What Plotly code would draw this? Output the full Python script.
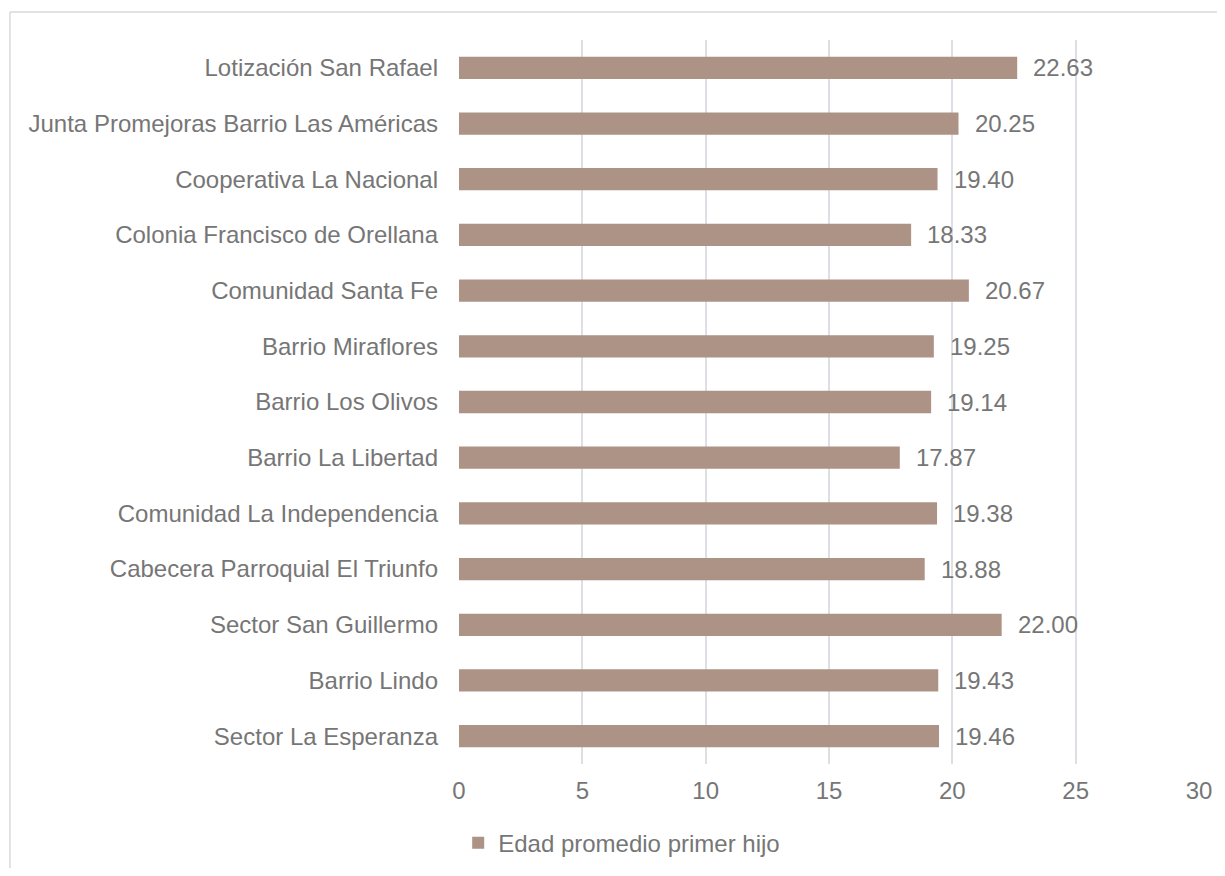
import plotly.graph_objects as go

categories = [
    "Lotización San Rafael",
    "Junta Promejoras Barrio Las Américas",
    "Cooperativa La Nacional",
    "Colonia Francisco de Orellana",
    "Comunidad Santa Fe",
    "Barrio Miraflores",
    "Barrio Los Olivos",
    "Barrio La Libertad",
    "Comunidad La Independencia",
    "Cabecera Parroquial El Triunfo",
    "Sector San Guillermo",
    "Barrio Lindo",
    "Sector La Esperanza",
]
values = [22.63, 20.25, 19.40, 18.33, 20.67, 19.25, 19.14, 17.87, 19.38, 18.88, 22.00, 19.43, 19.46]
series_name = "Edad promedio primer hijo"
x_ticks = [0, 5, 10, 15, 20, 25, 30]

bar_color = "#AD9385"
text_color = "#767676"
grid_color = "#DCE0E5"
font_family = "Liberation Sans, Arial, sans-serif"
fs = 24

fig = go.Figure()
fig.add_trace(go.Bar(
    y=categories,
    x=values,
    orientation="h",
    name=series_name,
    marker=dict(color=bar_color, line=dict(width=0)),
    width=0.4,
    showlegend=True,
))

for c, v in zip(categories, values):
    fig.add_annotation(
        x=v, y=c, text=f"{v:.2f}", showarrow=False,
        xanchor="left", yanchor="middle", xshift=14,
        font=dict(family=font_family, size=fs, color=text_color),
    )

# chart border (left and top visible)
fig.add_shape(type="line", xref="paper", yref="paper",
              x0=-0.6068, x1=-0.6068, y0=1.0387, y1=-0.16,
              line=dict(color="#D9D9D9", width=1.5))
fig.add_shape(type="line", xref="paper", yref="paper",
              x0=-0.6068, x1=1.05, y0=1.0387, y1=1.0387,
              line=dict(color="#D9D9D9", width=1.5))

fig.update_layout(
    width=1209, height=860,
    margin=dict(l=451, r=18, t=32, b=104, autoexpand=False),
    paper_bgcolor="white", plot_bgcolor="white",
    font=dict(family=font_family, size=fs, color=text_color),
    bargap=0.6,
    legend=dict(orientation="h", xref="container", yref="container",
                x=0.5076, xanchor="center", y=0.029, yanchor="middle",
                font=dict(family=font_family, size=fs, color=text_color),
                itemwidth=30),
    xaxis=dict(range=[0, 30], tickvals=x_ticks, showgrid=True, gridcolor=grid_color,
               gridwidth=1.5, zeroline=False, showline=False, ticks="", automargin=False,
               tickfont=dict(size=fs, color=text_color), ticklabelstandoff=10),
    yaxis=dict(categoryorder="array", categoryarray=categories[::-1], automargin=False,
               showgrid=False, zeroline=False, showline=False, ticks="",
               tickfont=dict(size=fs, color=text_color), ticklabelstandoff=20),
)

fig.write_html("out.html")
